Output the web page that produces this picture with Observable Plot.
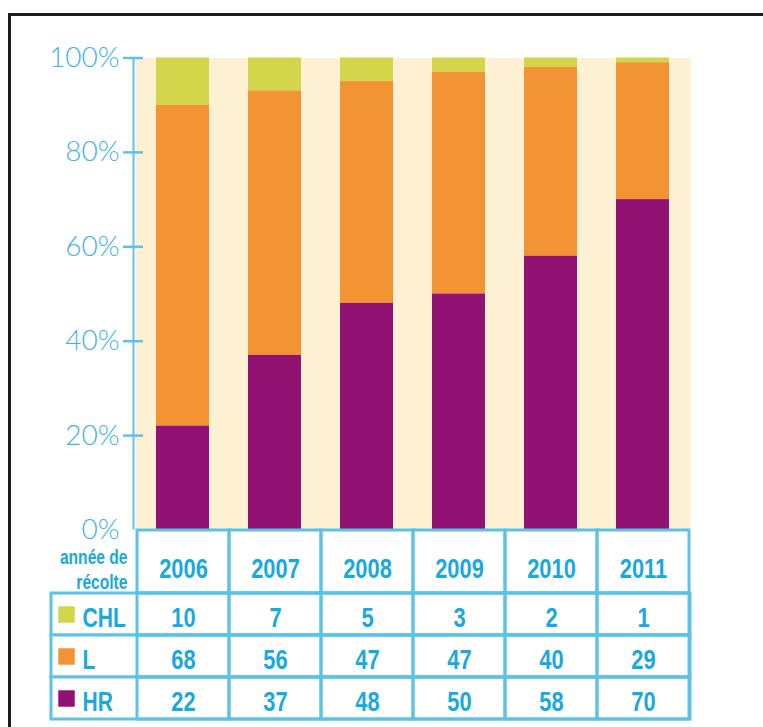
<!DOCTYPE html>
<html><head><meta charset="utf-8">
<script src="https://cdn.jsdelivr.net/npm/d3@7"></script>
<script src="https://cdn.jsdelivr.net/npm/@observablehq/plot@0.6"></script>
<style>
html,body{margin:0;padding:0;background:#fff;overflow:hidden;width:763px;height:727px;}
#frame{position:absolute;left:8px;top:13px;width:800px;height:800px;border:3px solid #1c1c1c;box-sizing:border-box;}
#chart{position:absolute;left:0;top:0;}
#table{position:absolute;left:0;top:527.5px;}
</style></head><body>
<div id="frame"></div><div id="chart"></div><div id="table"></div>
<script>
const years = ["2006","2007","2008","2009","2010","2011"];
const seriesNames = ["CHL","L","HR"];
const chl = [10,7,5,3,2,1];
const l = [68,56,47,47,40,29];
const hr = [22,37,48,50,58,70];
const yTicks = [0,20,40,60,80,100];
const headerLabel = "année de\nrécolte";

const seriesValues = {CHL: chl, L: l, HR: hr};
const colorRange = ["#d3d64a", "#f29433", "#921274"];
const lineBlue = "#5cc3e6";
const textBlue = "#1aa8e0";
const tickBlue = "#45b2e6";
const tableFont = "'Liberation Sans', Arial, sans-serif";

const stacked = [];
for (const s of seriesNames) years.forEach((yr, i) => stacked.push({year: yr, series: s, value: seriesValues[s][i]}));

const chart = Plot.plot({
  width: 763, height: 531,
  marginLeft: 135, marginRight: 73, marginTop: 57.5, marginBottom: 1.5,
  x: {type: "band", domain: years, paddingInner: 0.42, paddingOuter: 0.21, axis: null},
  y: {domain: [0, 100], axis: null},
  color: {domain: seriesNames, range: colorRange},
  style: {background: "transparent", overflow: "visible", fontFamily: "Lato, 'Open Sans', sans-serif"},
  marks: [
    Plot.frame({fill: "#fef0d2", stroke: null}),
    Plot.barY(stacked, {x: "year", y: "value", fill: "series", order: ["HR", "L", "CHL"]}),
    Plot.rect([0], {y1: () => 0, y2: () => 100, insetLeft: -2.5, insetRight: 555.5, fill: lineBlue}),
    Plot.ruleY(yTicks.filter(d => d > 0), {stroke: lineBlue, strokeWidth: 2.5, insetLeft: -12, insetRight: 547}),
    Plot.axisY({ticks: yTicks, tickSize: 0, tickPadding: 16, label: null, tickFormat: d => d + "%", fontSize: 28, fontWeight: 300, fill: tickBlue})
  ]
});
document.getElementById("chart").append(chart);

const rowDefs = seriesNames.map((s, j) => ({key: s, y1: 1.5 + j, y2: 2.5 + j, mid: 2 + j}));
const headCells = years.map(yr => ({year: yr, y1: 0, y2: 1.5, mid: 0.75, label: yr}));
const valueCells = [];
years.forEach((yr, i) => {
  rowDefs.forEach(r => valueCells.push({year: yr, key: r.key, y1: r.y1, y2: r.y2, mid: r.mid, label: String(seriesValues[r.key][i])}));
});
const allCells = headCells.concat(valueCells);

const table = Plot.plot({
  width: 763, height: 200,
  marginLeft: 51, marginRight: 73, marginTop: 2, marginBottom: 9,
  x: {type: "band", domain: years, range: [135, 690], padding: 0, axis: null},
  y: {domain: [0, 4.5], range: [2, 191], axis: null},
  color: {domain: seriesNames, range: colorRange},
  style: {background: "transparent", overflow: "visible", fontFamily: tableFont},
  marks: [
    Plot.rect(rowDefs, {y1: "y1", y2: "y2", fill: "white", stroke: lineBlue, strokeWidth: 3}),
    Plot.barY(allCells, {x: "year", y1: "y1", y2: "y2", fill: "none", stroke: lineBlue, strokeWidth: 3}),
    Plot.dot(rowDefs, {y: "mid", frameAnchor: "left", dx: 15, symbol: "square", r: 9.3, fill: "key", stroke: null}),
    Plot.text(rowDefs, {y: "mid", text: "key", frameAnchor: "left", dx: 31, textAnchor: "start", fontSize: 27, fontWeight: "bold", fill: textBlue, dy: 4}),
    Plot.text(headCells, {x: "year", y: "mid", text: "label", fontSize: 28, fontWeight: "bold", fill: textBlue, dy: 7}),
    Plot.text(valueCells, {x: "year", y: "mid", text: "label", fontSize: 28, fontWeight: "bold", fill: textBlue, dy: 4}),
    Plot.text([headerLabel], {y: () => 0.75, text: d => d, frameAnchor: "left", dx: 76, textAnchor: "end", fontSize: 20, fontWeight: "bold", lineHeight: 1.25, fill: textBlue, dy: 6})
  ]
});
document.getElementById("table").append(table);

// condensed look of the original typeface
table.querySelectorAll("text").forEach(t => {
  const spans = t.querySelectorAll("tspan");
  const targets = spans.length ? Array.from(spans) : [t];
  targets.forEach(el => {
    const w = el.getComputedTextLength();
    if (w > 0) {
      el.setAttribute("textLength", (w * 0.78).toFixed(1));
      el.setAttribute("lengthAdjust", "spacingAndGlyphs");
    }
  });
});
</script>
</body></html>
